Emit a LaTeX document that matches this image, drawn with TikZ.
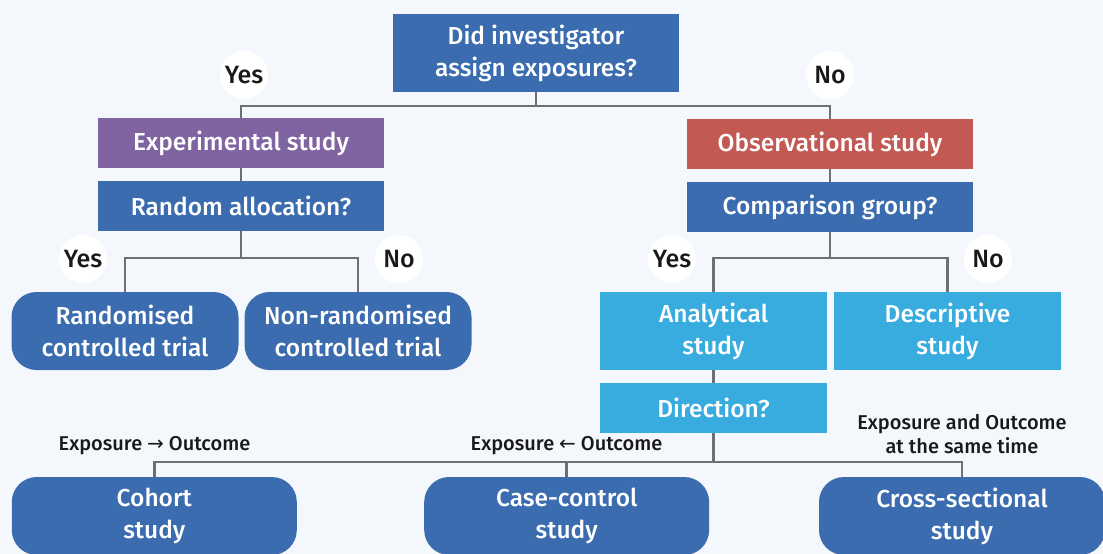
\documentclass[tikz,border=0pt]{standalone}
\usepackage{fontspec}
\setmainfont{Fira Sans Medium}
\newfontfamily\arrowfont{DejaVu Sans}
\definecolor{bg}{HTML}{F4F8FD}
\definecolor{dblue}{HTML}{3A6CAF}
\definecolor{purp}{HTML}{8063A1}
\definecolor{redd}{HTML}{C35953}
\definecolor{lblue}{HTML}{38ACDF}
\definecolor{conn}{HTML}{6F6F6F}
\tikzset{
  box/.style={inner sep=0pt, align=center, text=white, font=\fontsize{24.5}{32}\selectfont},
  sqbox/.style={box, rectangle},
  rbox/.style={box, rectangle, rounded corners=25pt},
  circ/.style={circle, fill=white, minimum size=48pt, inner sep=0pt, font=\fontsize{25}{26}\selectfont, text=black!90},
  lab/.style={align=center, inner sep=0pt, font=\fontsize{20}{24}\selectfont, text=black!90},
  link/.style={draw=conn, line width=2.6pt},
}
\begin{document}
\begin{tikzpicture}[x=1pt,y=-1pt]
\useasboundingbox (0,0) rectangle (1103,554);
\clip (0,0) rectangle (1103,554);
\fill[bg] (0,0) rectangle (1103,554);
% nodes
\node[sqbox, fill=dblue, minimum width=286pt, minimum height=78pt] (top) at (536,53) {Did investigator\\assign exposures?};
\node[sqbox, fill=purp, minimum width=286pt, minimum height=50pt] (exp) at (241,143) {Experimental study};
\node[sqbox, fill=dblue, minimum width=286pt, minimum height=50pt] (rand) at (241,206) {Random allocation?};
\node[sqbox, fill=redd, minimum width=286pt, minimum height=50pt] (obs) at (830,144) {Observational study};
\node[sqbox, fill=dblue, minimum width=286pt, minimum height=50pt] (comp) at (830,207) {Comparison group?};
\node[rbox, fill=dblue, minimum width=227pt, minimum height=78pt] (rct) at (125,331) {Randomised\\controlled trial};
\node[rbox, fill=dblue, minimum width=227pt, minimum height=78pt] (nrct) at (358,331) {Non-randomised\\controlled trial};
\node[sqbox, fill=lblue, minimum width=227pt, minimum height=78pt] (ana) at (713.5,331) {Analytical\\study};
\node[sqbox, fill=lblue, minimum width=227pt, minimum height=78pt] (desc) at (947.5,331) {Descriptive\\study};
\node[sqbox, fill=lblue, minimum width=227pt, minimum height=50pt] (dir) at (713.5,408) {Direction?};
\node[rbox, fill=dblue, minimum width=285pt, minimum height=78pt] (coh) at (154.3,516) {Cohort\\study};
\node[rbox, fill=dblue, minimum width=285pt, minimum height=78pt] (cc) at (566.7,516) {Case-control\\study};
\node[rbox, fill=dblue, minimum width=286pt, minimum height=78pt] (cs) at (962,516) {Cross-sectional\\study};
% junctions
\coordinate (j1) at (536,106);
\coordinate (j2) at (241,258);
\coordinate (j3) at (830,258);
\coordinate (j4) at (713.5,462);
% connectors
\draw[link] (top.south) -- (j1);
\draw[link] (exp.north) |- (j1) -| (obs.north);
\draw[link] (exp.south) -- (rand.north);
\draw[link] (obs.south) -- (comp.north);
\draw[link] (rand.south) -- (j2);
\draw[link] (rct.north) |- (j2) -| (nrct.north);
\draw[link] (comp.south) -- (j3);
\draw[link] (ana.north) |- (j3) -| (desc.north);
\draw[link] (ana.south) -- (dir.north);
\draw[link] (dir.south) -- (j4);
\draw[link] (coh.north) |- (j4) -| (cs.north);
\draw[link] (cc.north) -- (cc.north |- j4);
% circles
\node[circ] (y1) at (244,75) {Yes};
\node[circ] (n1) at (830,75) {No};
\node[circ] (y2) at (83,259) {Yes};
\node[circ] (n2) at (399,259) {No};
\node[circ] (y3) at (672,259) {Yes};
\node[circ] (n3) at (988,259) {No};
% labels
\node[lab] (l1) at (154.5,446) {Exposure {\arrowfont→} Outcome};
\node[lab] (l2) at (566.5,446) {Exposure {\arrowfont←} Outcome};
\node[lab] (l3) at (962,434) {Exposure and Outcome\\at the same time};
\end{tikzpicture}
\end{document}
